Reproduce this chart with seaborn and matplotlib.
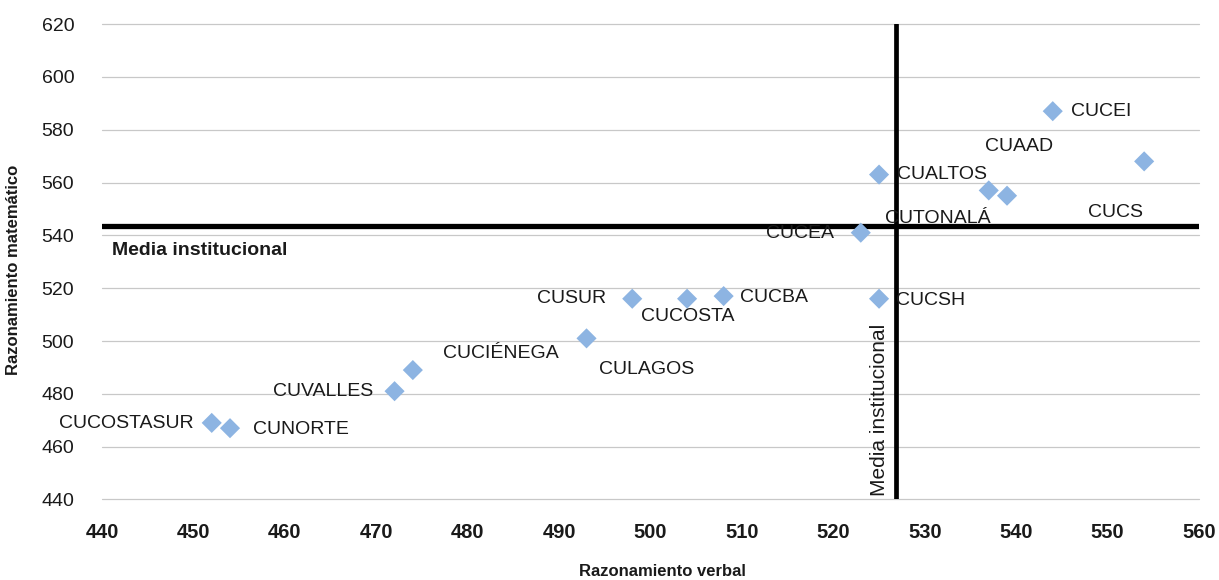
import matplotlib
matplotlib.use("Agg")
import matplotlib.pyplot as plt
import seaborn as sns
import pandas as pd

# Datos
centros = ['CUCEI', 'CUAAD', 'CUCS', 'CUALTOS', 'CUTONALÁ', 'CUCEA', 'CUCSH', 'CUCBA',
           'CUCOSTA', 'CUSUR', 'CULAGOS', 'CUCIÉNEGA', 'CUVALLES', 'CUCOSTASUR', 'CUNORTE']
razonamiento_verbal = [544, 539, 554, 525, 537, 523, 525, 508, 504, 498, 493, 474, 472, 452, 454]
razonamiento_matematico = [587, 555, 568, 563, 557, 541, 516, 517, 516, 516, 501, 489, 481, 469, 467]
media_verbal = 526.8
media_matematico = 543.4

# desplazamiento de cada etiqueta (pixeles) y alineacion
desplazamientos = {
    'CUCEI': (18, 0, 'left'), 'CUAAD': (-22, 49, 'left'), 'CUCS': (-1, -51, 'right'),
    'CUALTOS': (18, 0, 'left'), 'CUTONALÁ': (2, -28, 'right'), 'CUCEA': (-27, -1, 'right'),
    'CUCSH': (17, -2, 'left'), 'CUCBA': (16, -1, 'left'), 'CUCOSTA': (1, -18, 'center'),
    'CUSUR': (-26, 0, 'right'), 'CULAGOS': (12, -31, 'left'), 'CUCIÉNEGA': (30, 17, 'left'),
    'CUVALLES': (-21, 0, 'right'), 'CUCOSTASUR': (-18, -1, 'right'), 'CUNORTE': (23, -1, 'left'),
}

df = pd.DataFrame({'centro': centros, 'verbal': razonamiento_verbal, 'mate': razonamiento_matematico})

sns.set_theme(style='white')
plt.rcParams['font.family'] = ['Liberation Sans', 'DejaVu Sans']
texto = '#1a1a1a'

fig, ax = plt.subplots(figsize=(12.19, 5.80), dpi=100)
fig.subplots_adjust(left=0.0837, right=0.9836, top=0.9586, bottom=0.1388)

ax.axhline(media_matematico, color='black', lw=3.8, zorder=3)
ax.axvline(media_verbal, color='black', lw=3.4, zorder=3)

sns.scatterplot(data=df, x='verbal', y='mate', marker='D', s=105, color='#8DB4E2',
                edgecolor='none', linewidth=0, ax=ax, zorder=4)

for c, x, y in zip(centros, razonamiento_verbal, razonamiento_matematico):
    dx, dy, ha = desplazamientos[c]
    ax.annotate(c, (x, y), xytext=(dx, dy), textcoords='offset pixels', ha=ha, va='center',
                fontsize=14, color=texto, zorder=5)

ax.annotate('Media institucional', (440, media_matematico), xytext=(10, -24),
            textcoords='offset pixels', ha='left', va='center', fontsize=14, fontweight='bold',
            color=texto)
ax.annotate('Media institucional', (media_verbal, 440), xytext=(-7, 3),
            textcoords='offset pixels', ha='right', va='bottom', rotation=90,
            fontsize=15, color=texto)

ax.set_xlim(440, 560)
ax.set_ylim(440, 620)
ax.set_xticks(range(440, 561, 10))
ax.set_yticks(range(440, 621, 20))
ax.yaxis.grid(True, color='#C8C8C8', lw=0.9)
ax.xaxis.grid(False)
for linea in ax.get_ygridlines():
    linea.set_clip_on(False)
for s in ax.spines.values():
    s.set_visible(False)

ax.tick_params(axis='y', labelsize=14, pad=20, length=0, labelcolor=texto)
ax.tick_params(axis='x', labelsize=14.5, pad=17, length=0, labelcolor=texto)
for t in ax.get_xticklabels():
    t.set_fontweight('bold')

ax.set_xlabel('Razonamiento verbal', fontsize=12, fontweight='bold', color=texto)
ax.set_ylabel('Razonamiento matemático', fontsize=12, fontweight='bold', color=texto)
ax.xaxis.set_label_coords(0.511, -0.136)
ax.yaxis.set_label_coords(-0.074, 0.483)

plt.savefig('out.png', dpi=100)
